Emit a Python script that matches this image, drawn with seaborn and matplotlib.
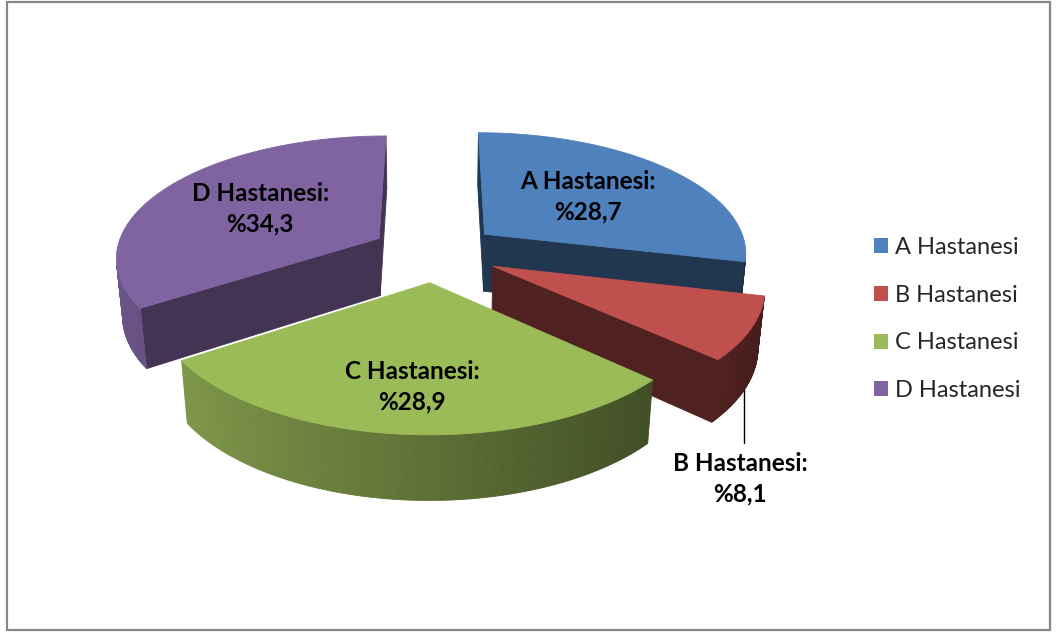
import numpy as np
import matplotlib
matplotlib.use("Agg")
import matplotlib.pyplot as plt
from matplotlib.patches import Polygon, Patch, Rectangle
from matplotlib.colors import to_rgb
import seaborn as sns

# ---- data ----
hospitals = ["A Hastanesi", "B Hastanesi", "C Hastanesi", "D Hastanesi"]
shares = [28.7, 8.1, 28.9, 34.3]
value_labels = ["%28,7", "%8,1", "%28,9", "%34,3"]

# ---- style ----
colors = ["#4F81BD", "#C0504D", "#9BBB59", "#8064A2"]
cut_face_shade = [0.42, 0.41, 0.45, 0.52]
label_radius = [0.55, None, 0.72, 0.55]   # None -> label outside with a leader

sns.set_theme(style="white")
plt.rcParams["font.family"] = ["Lato", "DejaVu Sans"]

W, H = 1059, 632
fig = plt.figure(figsize=(W / 100, H / 100), dpi=100)
ax = fig.add_axes([0, 0, 1, 1])
ax.set_xlim(0, W)
ax.set_ylim(H, 0)
ax.axis("off")

# ---- perspective projection of a tilted 3-D pie ----
CX, CY, SCALE = 435, 310, 258
SIN = 0.49
COS = np.sqrt(1 - SIN ** 2)
DIST = 6.23          # camera distance in pie radii
THICK = 0.252        # pie height in radii
EXPLODE = 0.245
CAM = np.array([0.0, -DIST * COS, DIST * SIN])


def project(x, y, z):
    w = 1 + (y * COS - z * SIN) / DIST
    return CX + SCALE * x / w, CY - SCALE * (y * SIN + z * COS) / w


def shade(color, f):
    return tuple(np.clip(np.array(to_rgb(color)) * f, 0, 1))


def facing(point, normal):
    return np.dot(CAM - point, normal) > 0


def face(pts3d, color):
    xy = [project(*p) for p in pts3d]
    ax.add_patch(Polygon(xy, closed=True, facecolor=color, edgecolor=color,
                         linewidth=0.6, joinstyle="round"))


fracs = np.array(shares) / np.sum(shares)
starts = 90 - 360 * np.concatenate([[0], np.cumsum(fracs)[:-1]])
ends = starts - 360 * fracs
mids = (starts + ends) / 2

slices = []
for i in range(len(shares)):
    m = np.radians(mids[i])
    c = np.array([EXPLODE * np.cos(m), EXPLODE * np.sin(m)])
    slices.append((i, c))

# paint back to front
slices.sort(key=lambda s: -s[1][1])

for i, c in slices:
    col = colors[i]
    a0, a1 = np.radians(ends[i]), np.radians(starts[i])
    thetas = np.linspace(a0, a1, max(int(np.degrees(a1 - a0) * 2), 4))

    # radial cut faces
    for ang, sgn in ((a1, 1), (a0, -1)):
        n = np.array([np.cos(ang + sgn * np.pi / 2), np.sin(ang + sgn * np.pi / 2), 0])
        rim = np.array([c[0] + np.cos(ang), c[1] + np.sin(ang)])
        mid_pt = np.array([(c[0] + rim[0]) / 2, (c[1] + rim[1]) / 2, THICK / 2])
        if facing(mid_pt, n):
            face([(c[0], c[1], THICK), (rim[0], rim[1], THICK),
                  (rim[0], rim[1], 0), (c[0], c[1], 0)],
                 shade(col, cut_face_shade[i]))

    # curved outer wall, shaded by facing direction
    for t0, t1 in zip(thetas[:-1], thetas[1:]):
        tm = (t0 + t1) / 2
        n = np.array([np.cos(tm), np.sin(tm), 0])
        p = np.array([c[0] + np.cos(tm), c[1] + np.sin(tm), THICK / 2])
        if not facing(p, n):
            continue
        f = 0.6 - 0.25 * np.cos(tm)
        x0, y0 = c[0] + np.cos(t0), c[1] + np.sin(t0)
        x1, y1 = c[0] + np.cos(t1), c[1] + np.sin(t1)
        face([(x0, y0, THICK), (x1, y1, THICK), (x1, y1, 0), (x0, y0, 0)],
             shade(col, f))

    # top face
    top = [(c[0], c[1], THICK)] + [(c[0] + np.cos(t), c[1] + np.sin(t), THICK)
                                   for t in thetas]
    face(top, col)

# ---- data labels ----
label_kw = dict(ha="center", fontsize=17.5, fontweight="bold", color="black",
                linespacing=1.38)
for i in range(len(shares)):
    m = np.radians(mids[i])
    c = np.array([EXPLODE * np.cos(m), EXPLODE * np.sin(m)])
    text = f"{hospitals[i]}:\n{value_labels[i]}"
    r = label_radius[i]
    if r is not None:
        lx, ly = project(c[0] + r * np.cos(m), c[1] + r * np.sin(m), THICK)
        ax.text(lx, ly, text, va="center", **label_kw)
    else:
        sx, sy = project(c[0] + np.cos(m), c[1] + np.sin(m), 0)
        ax.plot([sx, sx], [sy, sy + 53], color="black", lw=1.0)
        ax.text(sx - 4, sy + 62, text, va="top", **label_kw)

# ---- legend ----
handles = [Patch(facecolor=col, edgecolor="none", label=h)
           for col, h in zip(colors, hospitals)]
ax.legend(handles=handles, loc="center left", bbox_to_anchor=(874 / W, 1 - 319 / H),
          frameon=False, fontsize=17, handlelength=0.6, handleheight=0.6,
          handletextpad=0.3, labelspacing=1.13, borderpad=0, borderaxespad=0)

# chart border
ax.add_patch(Rectangle((7, 2), 1043, 628, fill=False, edgecolor="#878787", lw=1.6))

fig.savefig("out.png", dpi=100)
